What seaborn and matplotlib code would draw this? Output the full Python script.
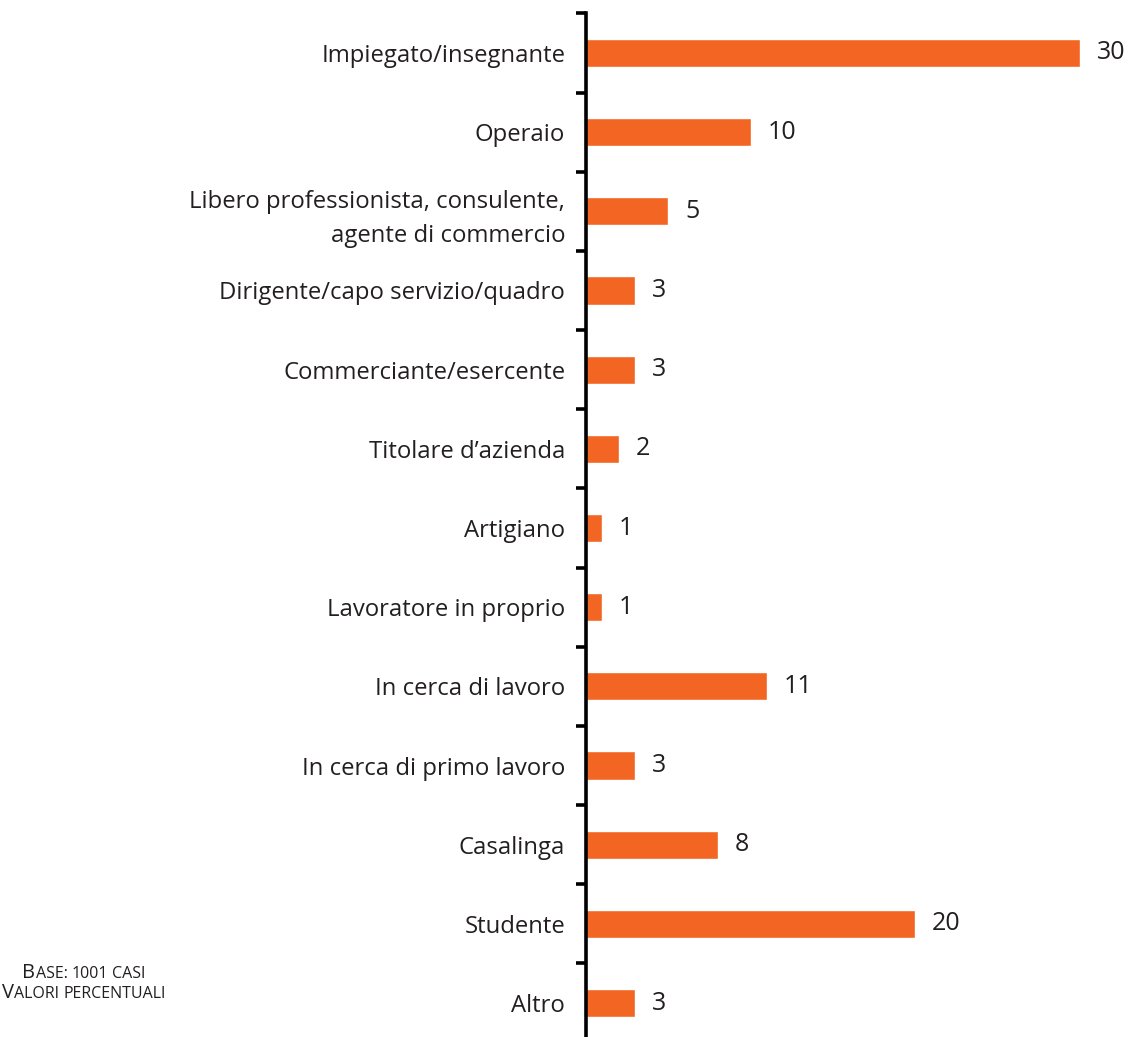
import matplotlib
matplotlib.use("Agg")
import matplotlib.pyplot as plt
import seaborn as sns
import pandas as pd
import numpy as np
from matplotlib.offsetbox import TextArea, HPacker, VPacker, AnchoredOffsetbox

categories = [
    "Impiegato/insegnante",
    "Operaio",
    "Libero professionista, consulente,\nagente di commercio",
    "Dirigente/capo servizio/quadro",
    "Commerciante/esercente",
    "Titolare d\u2019azienda",
    "Artigiano",
    "Lavoratore in proprio",
    "In cerca di lavoro",
    "In cerca di primo lavoro",
    "Casalinga",
    "Studente",
    "Altro",
]
values = [30, 10, 5, 3, 3, 2, 1, 1, 11, 3, 8, 20, 3]

df = pd.DataFrame({"categoria": categories, "valore": values})

sns.set_theme(style="white")
plt.rcParams["font.family"] = ["Open Sans", "DejaVu Sans"]

TEXT = "#231f20"
ORANGE = "#F26522"

fig = plt.figure(figsize=(11.28, 10.37), dpi=100)
W, H = 1128, 1037
top_px, bot_px = 13.4, 1042.6
left_px, right_px = 586, 1128
ax = fig.add_axes([left_px / W, 1 - bot_px / H, (right_px - left_px) / W, (bot_px - top_px) / H])

sns.barplot(data=df, y="categoria", x="valore", orient="h", color=ORANGE,
            saturation=1, width=0.355, ax=ax)

ax.set_xlim(0, 30 * (right_px - left_px) / 494)
ax.set_ylim(len(categories) - 0.5, -0.5)
ax.set_xlabel("")
ax.set_ylabel("")
ax.set_xticks([])

for s in ["top", "right", "bottom"]:
    ax.spines[s].set_visible(False)
ax.spines["left"].set_linewidth(2.6)
ax.spines["left"].set_color("black")

ax.set_yticks(np.arange(len(categories)))
ax.set_yticklabels(categories, fontsize=17.2, color=TEXT, linespacing=1.55)
ax.set_yticks(np.arange(len(categories) + 1) - 0.5, minor=True)
ax.tick_params(axis="y", which="major", length=0, pad=15)
ax.tick_params(axis="y", which="minor", length=7, width=2.6, color="black", left=True)

for cont in ax.containers:
    ax.bar_label(cont, labels=[str(v) for v in values], padding=12,
                 fontsize=18, color=TEXT)

# footnote in small caps
def small_caps(text, big=14.5, small=11.5):
    parts = []
    for word_i, word in enumerate(text.split(" ")):
        if word_i:
            parts.append(TextArea(" ", textprops=dict(fontsize=small, color=TEXT)))
        if word[0].isupper():
            parts.append(TextArea(word[0], textprops=dict(fontsize=big, color=TEXT)))
            rest = word[1:]
        else:
            rest = word
        if rest:
            parts.append(TextArea(rest.upper(), textprops=dict(fontsize=small, color=TEXT)))
    return HPacker(children=parts, align="baseline", pad=0, sep=0)

note = VPacker(children=[small_caps("Base: 1001 casi"), small_caps("Valori percentuali")],
               align="center", pad=0, sep=0)
anch = AnchoredOffsetbox(loc="upper center", child=note, frameon=False, pad=0,
                         bbox_to_anchor=(84 / W, 1 - 963 / H), bbox_transform=fig.transFigure,
                         borderpad=0)
fig.add_artist(anch)

fig.savefig("out.png", dpi=100, facecolor="white")
